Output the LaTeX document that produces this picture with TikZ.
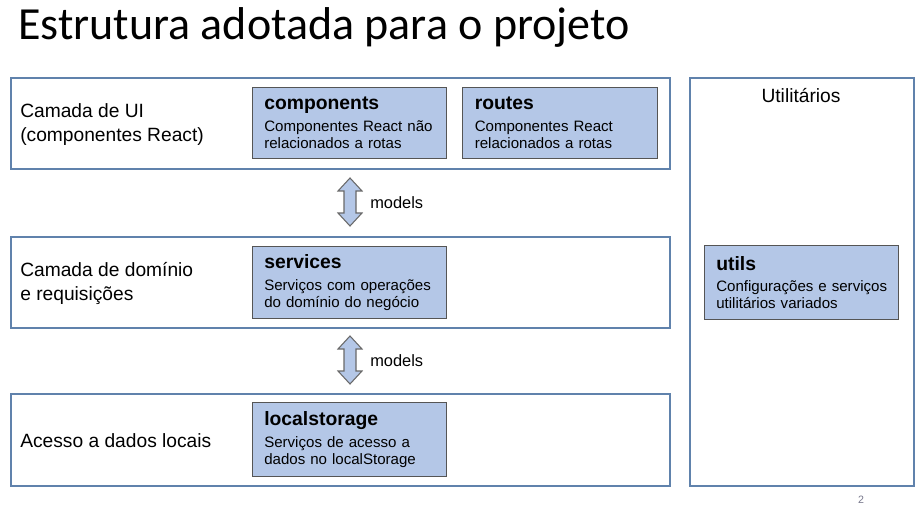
\documentclass[tikz,border=0pt]{standalone}
\usepackage{fontspec}
\setmainfont{Liberation Sans}
\newfontfamily\titlefont{Carlito}
\usetikzlibrary{calc}
\definecolor{layerline}{RGB}{96,130,172}
\definecolor{boxfill}{RGB}{180,199,231}
\definecolor{boxline}{RGB}{85,85,85}
\definecolor{arrowline}{RGB}{105,105,105}
\definecolor{pagegray}{RGB}{120,120,140}
\begin{document}
\begin{tikzpicture}[x=0.75pt,y=-0.75pt,
  layer/.style={draw=layerline, line width=1.5pt, fill=white, anchor=north west, inner sep=0pt},
  modbox/.style={draw=boxline, line width=0.9pt, fill=boxfill, anchor=north west,
    align=left, inner xsep=8.5pt, inner ysep=0pt, text width=128pt,
    font=\fontsize{11.3}{12.9}\selectfont},
  layerlabel/.style={anchor=west, align=left, font=\fontsize{14.4}{18}\selectfont, inner sep=0pt},
  bothway/.style={draw=arrowline, fill=boxfill, line width=0.8pt, line join=miter},
  modelslabel/.style={anchor=base west, font=\fontsize{12.3}{14}\selectfont, inner sep=0pt}]
\useasboundingbox (0,0) rectangle (920,513);

% title
\node[anchor=base west, inner sep=0pt, font=\titlefont\fontsize{34.5}{42}\selectfont] (title) at (18,40) {Estrutura adotada para o projeto};

% layers
\node[layer, minimum width=494.25pt, minimum height=68.25pt] (ui) at (10,77) {};
\node[layer, minimum width=494.25pt, minimum height=68.25pt] (dom) at (10,236) {};
\node[layer, minimum width=494.25pt, minimum height=69pt] (data) at (10,393) {};
\node[layer, minimum width=168pt, minimum height=306pt] (util) at (689,77) {};

% layer names
\node[layerlabel] (uilbl) at ($(ui.west)+(10,1)$) {Camada de UI\\(componentes React)};
\node[layerlabel] (domlbl) at ($(dom.west)+(10,1)$) {Camada de domínio\\e requisições};
\node[layerlabel] (datalbl) at ($(data.west)+(10,1)$) {Acesso a dados locais};
\node[anchor=base, inner sep=0pt, font=\fontsize{14.4}{18}\selectfont] (utillbl) at (801,102.5) {Utilitários};

% modules
\node[modbox, minimum width=145.5pt, minimum height=53.25pt] (components) at (252,87)
  {{\fontsize{14.5}{17}\selectfont\bfseries components}\\[3.2pt]\mbox{Componentes React não}\\relacionados a rotas};
\node[modbox, minimum width=146.25pt, minimum height=53.25pt] (routes) at (462,87)
  {{\fontsize{14.5}{17}\selectfont\bfseries routes}\\[3.2pt]Componentes React\\relacionados a rotas};
\node[modbox, minimum width=145.5pt, minimum height=54pt] (services) at (252,246)
  {{\fontsize{14.5}{17}\selectfont\bfseries services}\\[3.2pt]\mbox{Serviços com operações}\\do domínio do negócio};
\node[modbox, minimum width=145.5pt, minimum height=55.5pt] (localstorage) at (252,402)
  {{\fontsize{14.5}{17}\selectfont\bfseries localstorage}\\[3.2pt]Serviços de acesso a\\dados no localStorage};
\node[modbox, minimum width=145.5pt, minimum height=55.5pt] (utils) at (704,245)
  {{\fontsize{14.5}{17}\selectfont\bfseries utils}\\[3.2pt]\mbox{Configurações e serviços}\\utilitários variados};

% two-way arrows between layers
\coordinate (a1) at (350,178);
\coordinate (a2) at (350,336);
\foreach \c in {a1,a2}{
  \draw[bothway] (\c) -- ++(12,13) -- ++(-6,0) -- ++(0,22) -- ++(6,0) -- ++(-12,13)
    -- ++(-12,-13) -- ++(6,0) -- ++(0,-22) -- ++(-6,0) -- cycle;
}
\node[modelslabel] (m1) at (370,208.5) {models};
\node[modelslabel] (m2) at (370,366.5) {models};

% page number
\node[anchor=base, inner sep=0pt, text=pagegray, font=\fontsize{8}{9}\selectfont] (page) at (861,503) {2};
\end{tikzpicture}
\end{document}
